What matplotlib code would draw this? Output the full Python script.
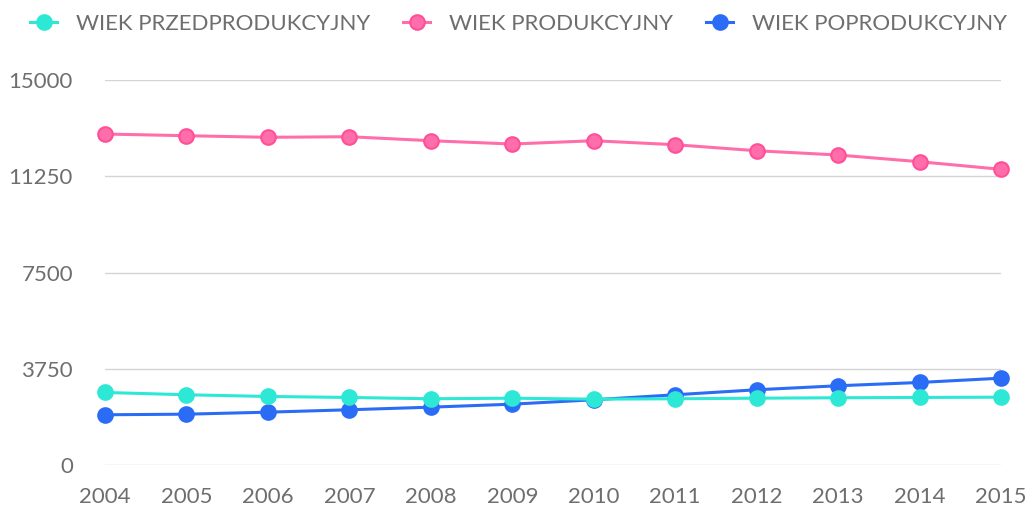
import matplotlib
matplotlib.use("Agg")
import matplotlib.pyplot as plt
from matplotlib.lines import Line2D

years = [2004, 2005, 2006, 2007, 2008, 2009, 2010, 2011, 2012, 2013, 2014, 2015]
przedprodukcyjny = [2827, 2737, 2671, 2632, 2581, 2604, 2566, 2581, 2604, 2620, 2632, 2643]
produkcyjny = [12896, 12830, 12768, 12791, 12635, 12506, 12635, 12479, 12245, 12078, 11817, 11521]
poprodukcyjny = [1958, 1981, 2059, 2153, 2254, 2371, 2542, 2737, 2932, 3088, 3216, 3384]
series_names = ["WIEK PRZEDPRODUKCYJNY", "WIEK PRODUKCYJNY", "WIEK POPRODUKCYJNY"]
y_ticks = [0, 3750, 7500, 11250, 15000]

colors = ["#2ce8d5", "#ff6eaa", "#2b6cf6"]
edges = ["#2ce8d5", "#ff4f98", "#2b6cf6"]
layers = [5, 4, 3]
text_color = "#6e6e6e"

plt.rcParams['font.family'] = ['Lato', 'DejaVu Sans']

fig = plt.figure(figsize=(10.25, 5.09), dpi=100)
ax = fig.add_axes([0.1024, 0.0864, 0.8742, 0.7564])

for vals, c, e, z in zip([przedprodukcyjny, produkcyjny, poprodukcyjny], colors, edges, layers):
    ax.plot(years, vals, color=c, linewidth=2.2, marker='o', markersize=10.5,
            markerfacecolor=c, markeredgecolor=e, markeredgewidth=1.5,
            clip_on=False, zorder=z)

ax.set_xlim(2004, 2015)
ax.set_ylim(0, 15000)
ax.set_yticks(y_ticks)
ax.set_yticklabels([str(v) for v in y_ticks])
ax.set_xticks(years)
ax.set_xticklabels([str(y) for y in years])
ax.grid(axis='y', color='#d4d4d4', linewidth=1)
ax.set_axisbelow(True)
for s in ax.spines.values():
    s.set_visible(False)
ax.tick_params(length=0, labelsize=16, labelcolor=text_color)
ax.tick_params(axis='y', pad=23)
ax.tick_params(axis='x', pad=16)

handles = [Line2D([0], [0], color=c, linewidth=2.2, marker='o', markersize=10.5,
                  markerfacecolor=c, markeredgecolor=e, markeredgewidth=1.5)
           for c, e in zip(colors, edges)]
leg = fig.legend(handles, series_names, loc='upper center', ncol=3,
                 bbox_to_anchor=(0.506, 1.012), frameon=False, handlelength=1.2,
                 columnspacing=1.5, handletextpad=0.85,
                 prop={'size': 16})
for t in leg.get_texts():
    t.set_color(text_color)

fig.savefig("out.png", dpi=100)
